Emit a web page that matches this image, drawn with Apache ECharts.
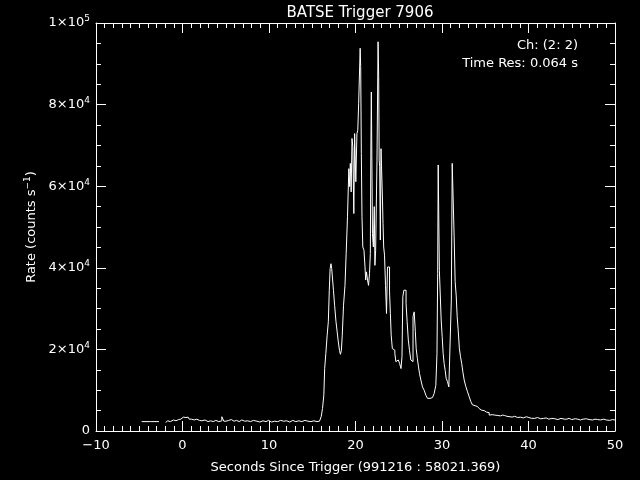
<!DOCTYPE html>
<html><head><meta charset="utf-8">
<script src="https://cdn.jsdelivr.net/npm/echarts@6/dist/echarts.min.js"></script>
<style>html,body{margin:0;padding:0;background:#000}#c{width:640px;height:480px}</style>
</head><body><div id="c"></div>
<script>
const titleText = "BATSE Trigger 7906";
const xTitle = "Seconds Since Trigger (991216 : 58021.369)";
const channelText = "Ch: (2: 2)";
const resText = "Time Res: 0.064 s";
const xTicks = [-10, 0, 10, 20, 30, 40, 50];
const yTicks = [0, 20000, 40000, 60000, 80000, 100000];

// pre-trigger (coarse) segment
const preTimes = [-4.72, -2.72];
const preRates = [2300, 2300];

// main light curve: seconds, counts/s
const times = [
 -1.95,-1.7,-1.4,-1.2,-0.9,-0.6,-0.3,-0.1,0.1,0.4,0.65,0.9,1.2,1.5,1.8,2.1,2.4,2.8,3.1,3.4,3.7,4.0,4.4,4.7,4.85,
 5.2,5.5,5.8,6.1,6.4,6.7,7.0,7.4,7.7,8.0,8.4,8.8,9.1,9.5,9.8,10.1,10.5,10.8,11.2,11.5,11.9,12.2,12.6,12.9,13.3,
 13.6,14.0,14.3,14.7,15.0,15.4,15.7,15.97,
 16.09,16.28,16.4,16.47,16.67,16.78,16.94,17.0,17.13,17.2,17.3,17.4,17.5,17.67,17.82,17.94,18.09,18.2,18.32,18.42,
 18.52,18.71,18.86,18.98,19.17,19.29,19.36,19.44,19.56,19.63,19.75,19.86,19.94,20.13,20.2,20.33,20.4,20.52,20.56,
 20.64,20.71,20.79,20.9,21.06,21.14,21.21,21.33,21.45,21.56,21.68,21.75,21.79,21.87,21.93,21.99,22.14,22.2,22.29,
 22.37,22.45,22.52,22.58,22.64,22.72,22.76,22.83,22.91,22.99,23.1,23.14,23.22,23.3,23.41,23.53,23.64,23.76,23.88,
 23.99,24.07,24.18,24.34,24.49,24.61,24.72,24.88,25.03,25.18,25.34,25.41,25.53,25.65,25.78,25.91,26.03,26.18,26.3,
 26.49,26.61,26.69,26.88,26.96,27.07,27.23,27.34,27.46,27.65,27.84,28.03,28.23,28.42,28.62,28.81,29.0,29.19,29.38,
 29.46,29.54,29.58,29.66,29.73,29.85,29.96,30.08,30.19,30.31,30.42,30.54,30.73,30.85,30.96,31.04,31.12,31.24,31.35,
 31.46,31.58,31.7,31.81,31.93,32.08,32.2,32.35,32.47,32.66,32.85,33.05,33.24,33.43,33.62,33.82,34.0,34.2,34.4,34.59,
 34.78,34.97,35.17,35.36,35.55,35.8,36.1,36.32,36.6,36.9,37.09,37.4,37.6,37.86,38.1,38.4,38.63,38.9,39.2,39.6,39.9,
 40.2,40.56,40.9,41.2,41.6,41.9,42.2,42.5,42.9,43.2,43.6,43.9,44.4,44.7,45.0,45.4,45.7,46.0,46.3,46.7,47.0,47.4,
 47.7,48.0,48.3,48.7,49.0,49.4,49.7,50.0
];
const rates = [
 2100,2500,2300,2700,2500,2800,2900,3300,3400,3300,3400,2900,2700,2900,2600,2500,2700,2300,2500,2300,2600,2300,2500,3500,2400,
 2600,2800,2400,2600,2300,2700,2400,2500,2300,2600,2400,2200,2500,2300,2600,2200,2400,2300,2600,2400,2500,2200,2600,2300,2500,
 2300,2600,2400,2300,2500,2300,2400,2600,
 3500,5500,8800,15300,19000,23500,26800,34500,39800,41000,39800,39800,34500,30800,26800,24300,21800,19800,18800,19800,
 23500,30800,35700,43500,52500,64300,59900,65600,58600,71700,69700,53300,72900,61100,72900,73700,80300,80300,93800,
 89300,68000,52500,45100,44300,40200,37000,39000,37000,35700,38600,43500,67200,83100,83100,48400,45100,55000,40600,
 44300,44300,66400,66400,95400,86800,66400,64800,46800,69200,69200,56600,50900,45100,43100,35700,28800,40200,40200,
 34100,28800,23500,20200,19800,19000,17000,17400,17000,16500,15300,18200,32900,34500,34500,31300,26800,22300,19800,
 17400,17000,28000,29200,24300,20200,17800,15700,14100,12500,10800,10000,8800,8000,8000,8200,8400,9200,11200,
 19000,38600,65200,65200,39400,39400,27200,23100,19000,16500,14900,12900,12100,10800,10400,10400,32100,65600,65600,
 47600,36600,33300,28000,24800,20300,18200,16600,14500,12500,10900,9600,8400,7200,6400,6200,6000,5700,5500,5100,
 5000,4700,4600,4500,3900,4000,3900,3800,3700,3900,3800,3600,3700,3500,3400,3600,3300,3400,3200,3500,3300,
 3100,3100,3300,3000,3100,3200,2900,3100,3000,2800,3100,2900,2900,3100,2800,3000,2900,2700,2900,3000,2800,2700,
 2900,2800,2700,2900,2700,2600,2800,2700
];

const FONT = "DejaVu Sans";
const W = "#ffffff";
const supFmt = v => {
  if (v === 0) return "0";
  const e = Math.floor(Math.log10(v) + 1e-9);
  const m = Math.round(v / Math.pow(10, e));
  return m + "×10{sup|" + e + "}";
};
const rich = { sup: { fontSize: 9, fontFamily: FONT, color: W, verticalAlign: "top", padding: [0, 0, 8, 0] } };

const chart = echarts.init(document.getElementById("c"), null, { renderer: "canvas" });
function axis(extra, split) {
  return Object.assign({
    axisLine: { show: true, onZero: false, lineStyle: { color: W, width: 1 } },
    axisTick: { show: true, inside: true, length: 10, lineStyle: { color: W } },
    minorTick: { show: true, splitNumber: split, length: 5, lineStyle: { color: W } },
    splitLine: { show: false },
    minorSplitLine: { show: false }
  }, extra);
}
chart.setOption({
  animation: false,
  backgroundColor: "#000",
  title: { text: titleText, left: 355, top: 1, textAlign: "center",
    textStyle: { color: W, fontFamily: FONT, fontSize: 15, fontWeight: "normal" } },
  grid: { left: 96, right: 25, top: 23, bottom: 49 },
  xAxis: [
    axis({ type: "value", min: xTicks[0], max: xTicks[xTicks.length - 1], interval: 10, position: "bottom",
      axisLabel: { color: W, fontFamily: FONT, fontSize: 13, margin: 8, formatter: v => (v < 0 ? "\u2212" + Math.abs(v) : "" + v) },
      name: xTitle, nameLocation: "middle", nameGap: 30,
      nameTextStyle: { color: W, fontFamily: FONT, fontSize: 13 } }, 10),
    axis({ type: "value", min: xTicks[0], max: xTicks[xTicks.length - 1], interval: 10, position: "top",
      axisLabel: { show: false } }, 10)
  ],
  yAxis: [
    axis({ type: "value", min: yTicks[0], max: yTicks[yTicks.length - 1], interval: 20000, position: "left",
      axisLabel: { color: W, fontFamily: FONT, fontSize: 13, margin: 6, formatter: supFmt, rich: rich },
      name: "Rate (counts s{sup|\u22121})", nameLocation: "middle", nameGap: 56, nameRotate: 90,
      nameTextStyle: { color: W, fontFamily: FONT, fontSize: 13, rich: rich } }, 4),
    axis({ type: "value", min: yTicks[0], max: yTicks[yTicks.length - 1], interval: 20000, position: "right",
      axisLabel: { show: false } }, 4)
  ],
  graphic: [
    { type: "text", right: 62, top: 39, style: { text: channelText, fill: W, font: "13px " + FONT, textAlign: "right" } },
    { type: "text", right: 62, top: 57, style: { text: resText, fill: W, font: "13px " + FONT, textAlign: "right" } }
  ],
  series: [
    { type: "line", xAxisIndex: 0, yAxisIndex: 0, step: "middle", symbol: "none",
      lineStyle: { color: W, width: 1 }, data: preTimes.map((t, i) => [t, preRates[i]]) },
    { type: "line", xAxisIndex: 0, yAxisIndex: 0, step: "middle", symbol: "none",
      lineStyle: { color: W, width: 1 }, data: times.map((t, i) => [t, rates[i]]) }
  ]
});
</script></body></html>
